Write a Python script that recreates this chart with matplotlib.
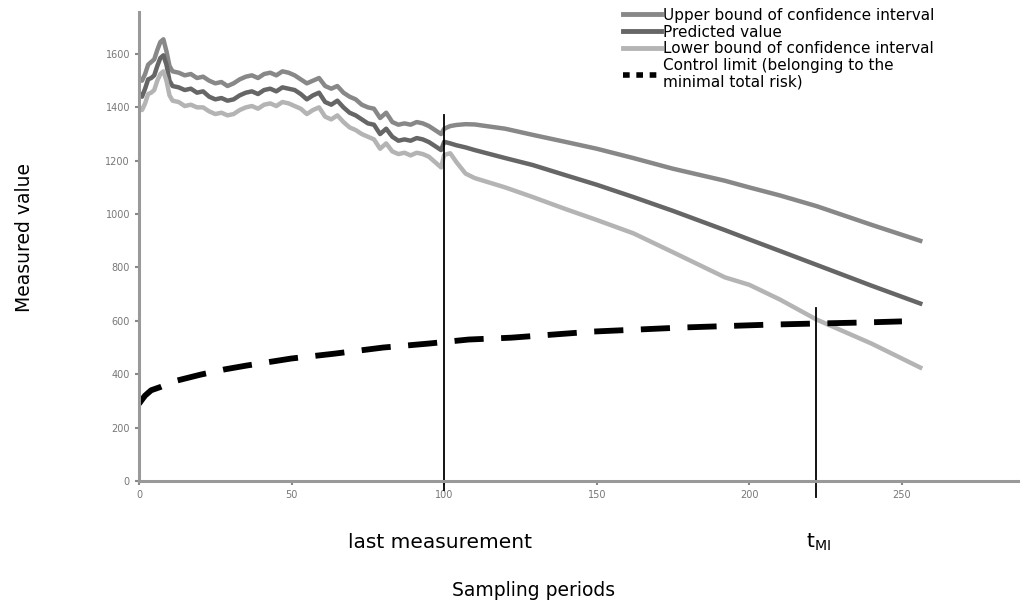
import matplotlib
matplotlib.use("Agg")
import matplotlib.pyplot as plt
from matplotlib.lines import Line2D

plt.rcParams['font.family'] = ['DejaVu Sans']

# measured history (t = 0..100)
hist_t = [0, 1, 2, 3, 4, 5, 6, 7, 8, 9, 10, 11, 13, 15, 17, 19, 21, 23, 25, 27, 29, 31,
          33, 35, 37, 39, 41, 43, 45, 47, 49, 51, 53, 55, 57, 59, 61, 63, 65, 67, 69,
          71, 73, 75, 77, 79, 81, 83, 85, 87, 89, 91, 93, 95, 97, 99, 100]
hist_pred = [1455, 1440, 1470, 1505, 1510, 1520, 1555, 1585, 1595, 1560, 1500, 1480,
             1475, 1465, 1470, 1455, 1460, 1440, 1430, 1435, 1425, 1430, 1445, 1455,
             1460, 1450, 1465, 1470, 1460, 1475, 1470, 1465, 1450, 1430, 1445, 1455,
             1420, 1410, 1425, 1400, 1380, 1370, 1355, 1340, 1335, 1300, 1320, 1290,
             1275, 1280, 1275, 1285, 1280, 1270, 1255, 1240, 1271]
hist_upper = [1511, 1500, 1525, 1560, 1570, 1580, 1615, 1645, 1655, 1610, 1555, 1535,
              1530, 1520, 1525, 1510, 1515, 1500, 1490, 1495, 1480, 1490, 1505, 1515,
              1520, 1510, 1525, 1530, 1520, 1535, 1530, 1520, 1505, 1490, 1500, 1510,
              1480, 1470, 1480, 1455, 1440, 1430, 1410, 1400, 1395, 1360, 1380, 1345,
              1335, 1340, 1335, 1345, 1340, 1330, 1315, 1300, 1320]
hist_lower = [1402, 1390, 1415, 1450, 1455, 1465, 1500, 1525, 1535, 1500, 1445, 1425,
              1420, 1405, 1410, 1400, 1400, 1385, 1375, 1380, 1370, 1375, 1390, 1400,
              1405, 1395, 1410, 1415, 1405, 1420, 1415, 1405, 1395, 1375, 1390, 1400,
              1365, 1355, 1370, 1345, 1325, 1315, 1300, 1290, 1280, 1245, 1265, 1235,
              1225, 1230, 1220, 1230, 1225, 1215, 1195, 1175, 1222]

# forecast (t = 100..256)
fc_t = [100, 102, 104, 107, 110, 120, 129, 140, 150, 162, 175, 192, 200, 210, 222,
        240, 256]
fc_upper = [1320, 1330, 1334, 1337, 1336, 1320, 1297, 1270, 1245, 1210, 1170, 1125,
            1100, 1070, 1030, 960, 900]
fc_pred = [1271, 1265, 1258, 1250, 1240, 1210, 1184, 1145, 1110, 1064, 1012, 940, 905,
           862, 810, 732, 665]
fc_lower = [1222, 1228, 1195, 1152, 1135, 1100, 1064, 1018, 978, 928, 857, 763, 735,
            680, 605, 515, 425]

# control limit
cl_t = [0, 1, 2, 4, 7, 12, 20, 28, 35, 50, 64, 80, 95, 108, 122, 149, 178, 207, 222,
        238, 250]
cl_val = [289, 305, 320, 340, 352, 375, 398, 418, 432, 459, 477, 500, 515, 530, 537,
          560, 575, 586, 590, 594, 598]

last_t = 100
t_mi = 222

c_upper = '#888888'
c_pred = '#666666'
c_lower = '#b4b4b4'

fig = plt.figure(figsize=(10.22, 6.05), dpi=100)
ax = fig.add_axes([0.136, 0.205, 0.86, 0.775])

ax.plot(hist_t + fc_t[1:], hist_upper + fc_upper[1:], color=c_upper, lw=3.2)
ax.plot(hist_t + fc_t[1:], hist_pred + fc_pred[1:], color=c_pred, lw=3.2)
ax.plot(hist_t + fc_t[1:], hist_lower + fc_lower[1:], color=c_lower, lw=3.2)
ax.plot(cl_t, cl_val, color='black', lw=4.2, dashes=(5, 3))

ax.plot([last_t, last_t], [-35, 1372], color='black', lw=1.3, clip_on=False)
ax.plot([t_mi, t_mi], [-60, 647], color='black', lw=1.3, clip_on=False)

ax.set_xlim(0, 288)
ax.set_ylim(0, 1757)
ax.set_xticks([0, 50, 100, 150, 200, 250])
ax.set_yticks(range(0, 1601, 200))
ax.tick_params(labelsize=7, colors='#888888', labelcolor='#777777', length=3, width=1.5)
for s in ['top', 'right']:
    ax.spines[s].set_visible(False)
for s in ['left', 'bottom']:
    ax.spines[s].set_color('#999999')
    ax.spines[s].set_linewidth(2.2)

handles = [
    Line2D([], [], color=c_upper, lw=3.5),
    Line2D([], [], color=c_pred, lw=3.5),
    Line2D([], [], color=c_lower, lw=3.5),
    Line2D([], [], color='black', lw=4, dashes=(1.2, 1.2)),
]
labels = ['Upper bound of confidence interval', 'Predicted value',
          'Lower bound of confidence interval',
          'Control limit (belonging to the\nminimal total risk)']
leg = fig.legend(handles, labels, loc='upper left', bbox_to_anchor=(0.599, 1.005),
                 frameon=False, fontsize=11, handlelength=2.5, handletextpad=0.1,
                 labelspacing=0.12, borderpad=0.2)
for txt in leg.get_texts():
    txt.set_linespacing(1.15)

fig.text(25 / 1022, 1 - 238 / 605, 'Measured value', rotation=90, ha='center',
         va='center', fontsize=13.5)
fig.text(440 / 1022, 1 - 542 / 605, 'last measurement', ha='center', va='center',
         fontsize=14.5)
fig.text(818 / 1022, 1 - 542 / 605, r't$_\mathregular{MI}$', ha='center', va='center',
         fontsize=14.5)
fig.text(534 / 1022, 1 - 591 / 605, 'Sampling periods', ha='center', va='center',
         fontsize=13.5)

fig.savefig('out.png', dpi=100)
